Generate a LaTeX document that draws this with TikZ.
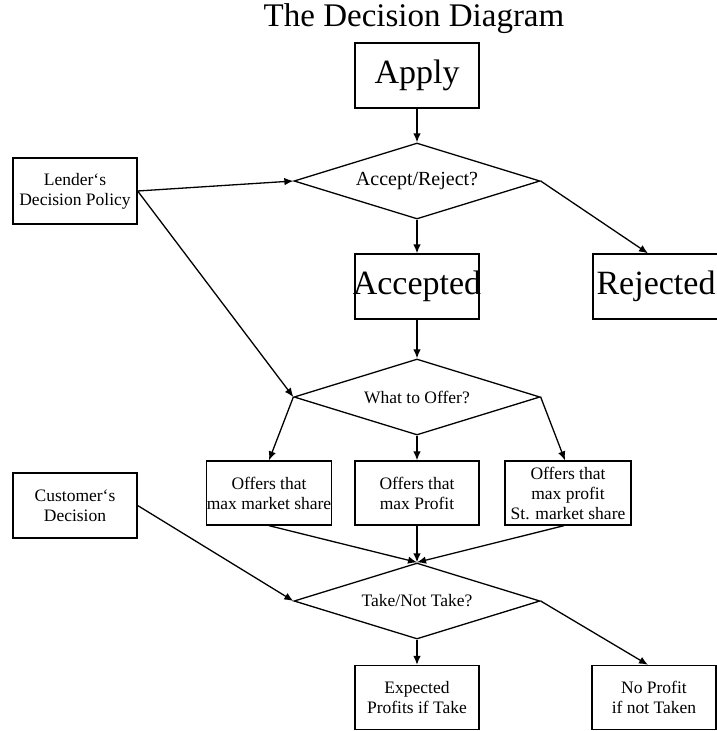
\documentclass[tikz,border=0pt]{standalone}
\usepackage{fontspec}
\setmainfont{Liberation Serif}
\usetikzlibrary{arrows.meta,shapes.geometric}
\tikzset{
  bigbox/.style={draw, line width=1.3pt, inner sep=0pt, minimum width=124pt, minimum height=65pt, font=\fontsize{34}{36}\selectfont},
  smallbox/.style={draw, line width=1.3pt, inner sep=0pt, align=center, minimum width=124pt, minimum height=64pt, font=\fontsize{17.5}{20}\selectfont},
  question/.style={draw, diamond, line width=1.3pt, inner sep=0pt, aspect=3.2, minimum width=246pt, minimum height=76pt, font=\fontsize{17.5}{20}\selectfont},
  flowarrow/.style={-{Latex[length=9pt,width=7.5pt]}, line width=1.3pt},
}

\begin{document}
\begin{tikzpicture}[x=1pt, y=-1pt]
    \useasboundingbox (0,0) rectangle (717,731);
    \node[font=\fontsize{33}{35}\selectfont] (title) at (414,19) {The Decision Diagram};
    % first stage
    \node[bigbox] (apply) at (417,75.5) {Apply};
    \node[question, font=\fontsize{20}{22}\selectfont] (accrej) at (417,181) {Accept/Reject?};
    \node[smallbox, minimum height=66pt] (lender) at (75,191) {Lender`s\\Decision Policy};
    \node[bigbox] (accepted) at (417,286.5) {\makebox[0pt]{Accepted}};
    \node[bigbox, minimum width=134pt] (rejected) at (660,286.5) {\makebox[0pt]{\hspace*{-8pt}Rejected}};
    \draw[flowarrow] (apply) -- (accrej.north);
    \draw[flowarrow] (lender.east) -- (accrej.west);
    \draw[flowarrow] (accrej.south) -- (accepted);
    \draw[flowarrow] (accrej.east) -- ([xshift=-12pt]rejected.north);
    % second stage
    \node[question] (offer) at (417,397) {What to Offer?};
    \node[smallbox] (maxshare) at (269,493) {Offers that\\max market share};
    \node[smallbox] (maxprofit) at (417,493) {Offers that\\max Profit};
    \node[smallbox, minimum width=126pt] (maxboth) at (568,493) {Offers that\\max profit\\St. market share};
    \draw[flowarrow] (accepted) -- (offer.north);
    \draw[flowarrow] (lender.east) -- (offer.west);
    \draw[flowarrow] (offer.west) -- (maxshare.north);
    \draw[flowarrow] (offer.south) -- (maxprofit.north);
    \draw[flowarrow] (offer.east) -- ([xshift=-3pt]maxboth.north);
    % third stage
    \node[question] (take) at (417,601) {Take/Not Take?};
    \node[smallbox, minimum height=65pt] (customer) at (75,505.5) {Customer`s\\Decision};
    \node[smallbox] (expected) at (417,697.5) {Expected\\Profits if Take};
    \node[smallbox] (noprofit) at (654,697.5) {No Profit\\if not Taken};
    \draw[flowarrow] (maxshare.south) -- (take.north);
    \draw[flowarrow] (maxprofit.south) -- (take.north);
    \draw[flowarrow] ([xshift=-4pt]maxboth.south) -- (take.north);
    \draw[flowarrow] (customer.east) -- (take.west);
    \draw[flowarrow] (take.south) -- (expected.north);
    \draw[flowarrow] (take.east) -- ([xshift=-6pt]noprofit.north);
\end{tikzpicture}
\end{document}
